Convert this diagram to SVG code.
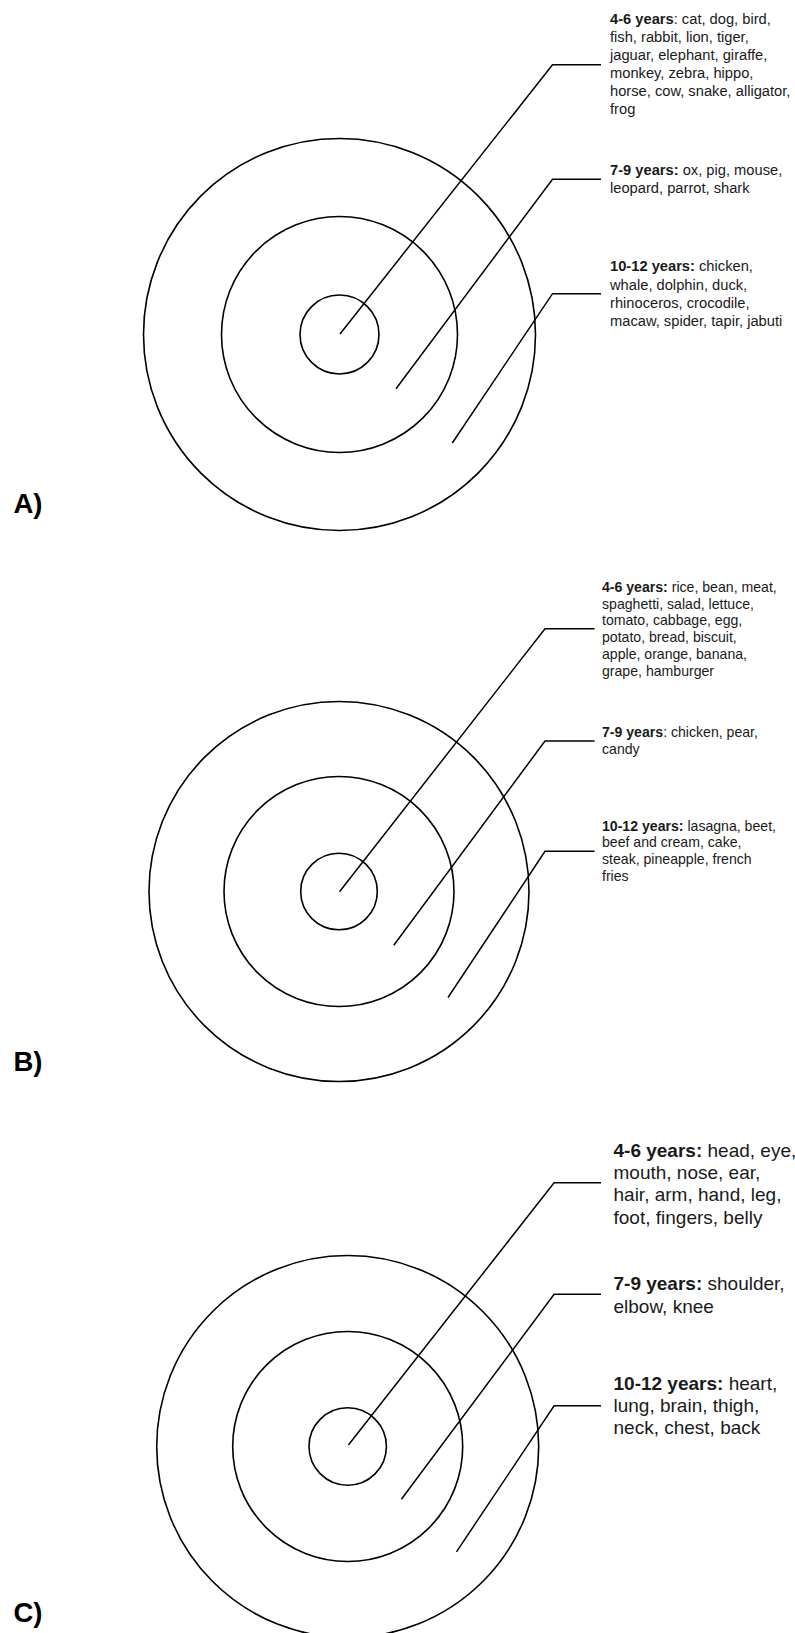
<svg xmlns="http://www.w3.org/2000/svg" width="795" height="1633" viewBox="0 0 795 1633">
<style>
.ring{fill:none;stroke:#000;stroke-width:1.6}
.lead{fill:none;stroke:#000;stroke-width:1.5;stroke-linejoin:miter}
.t{font-family:"Liberation Sans",Arial,sans-serif;fill:#1a1a1a}
.a{font-size:14.7px}
.b{font-size:14.1px}
.c{font-size:19px}
.bold{font-weight:bold}
.panel{font-family:"Liberation Sans",Arial,sans-serif;font-weight:bold;font-size:27.5px;fill:#000}
</style>
<rect width="795" height="1633" fill="#fff"/>

<!-- Panel A -->
<g id="panelA-rings">
<circle class="ring" cx="339.5" cy="334.5" r="196"/>
<circle class="ring" cx="339.5" cy="334.5" r="118"/>
<circle class="ring" cx="339.5" cy="334.5" r="39.5"/>
</g>
<g id="connectors-A">
<path class="lead" d="M340,334 L552.5,64.8 H601"/>
<path class="lead" d="M396,388.8 L552.5,179.2 H601"/>
<path class="lead" d="M452.3,443 L552.5,293.7 H601"/>
</g>
<g id="A-4-6" class="t a">
<text x="610" y="24.2"><tspan class="bold">4-6 years</tspan>: cat, dog, bird,</text>
<text x="610" y="42.1">fish, rabbit, lion, tiger,</text>
<text x="610" y="60">jaguar, elephant, giraffe,</text>
<text x="610" y="77.9">monkey, zebra, hippo,</text>
<text x="610" y="95.8">horse, cow, snake, alligator,</text>
<text x="610" y="113.7">frog</text>
</g>
<g id="A-7-9" class="t a">
<text x="610" y="175.2"><tspan class="bold">7-9 years:</tspan> ox, pig, mouse,</text>
<text x="610" y="193.1">leopard, parrot, shark</text>
</g>
<g id="A-10-12" class="t a">
<text x="610" y="271.4"><tspan class="bold">10-12 years:</tspan> chicken,</text>
<text x="610" y="289.5">whale, dolphin, duck,</text>
<text x="610" y="307.6">rhinoceros, crocodile,</text>
<text x="610" y="325.7">macaw, spider, tapir, jabuti</text>
</g>
<text id="label-A" class="panel" x="13.5" y="512.7">A)</text>

<!-- Panel B -->
<g id="panelB-rings">
<circle class="ring" cx="339" cy="891.5" r="190"/>
<circle class="ring" cx="339" cy="891.5" r="115"/>
<circle class="ring" cx="339" cy="891.5" r="38.3"/>
</g>
<g id="connectors-B">
<path class="lead" d="M339.5,891.8 L545,628.8 H594.5"/>
<path class="lead" d="M393.8,945.3 L545,741 H594.5"/>
<path class="lead" d="M448,997.5 L545,851.3 H594.5"/>
</g>
<g id="B-4-6" class="t b">
<text x="602" y="591.8"><tspan class="bold">4-6 years:</tspan> rice, bean, meat,</text>
<text x="602" y="608.6">spaghetti, salad, lettuce,</text>
<text x="602" y="625.4">tomato, cabbage, egg,</text>
<text x="602" y="642.2">potato, bread, biscuit,</text>
<text x="602" y="659">apple, orange, banana,</text>
<text x="602" y="675.8">grape, hamburger</text>
</g>
<g id="B-7-9" class="t b">
<text x="602" y="737"><tspan class="bold">7-9 years</tspan>: chicken, pear,</text>
<text x="602" y="753.8">candy</text>
</g>
<g id="B-10-12" class="t b">
<text x="602" y="830.5"><tspan class="bold">10-12 years:</tspan> lasagna, beet,</text>
<text x="602" y="847.3">beef and cream, cake,</text>
<text x="602" y="864.1">steak, pineapple, french</text>
<text x="602" y="880.9">fries</text>
</g>
<text id="label-B" class="panel" x="13.5" y="1070.7">B)</text>

<!-- Panel C -->
<g id="panelC-rings">
<circle class="ring" cx="347.7" cy="1446.5" r="191"/>
<circle class="ring" cx="347.7" cy="1446.5" r="115"/>
<circle class="ring" cx="347.7" cy="1446.5" r="38.7"/>
</g>
<g id="connectors-C">
<path class="lead" d="M348.4,1445 L554.1,1182.8 H601"/>
<path class="lead" d="M401.4,1499.3 L554.1,1294.3 H601"/>
<path class="lead" d="M456.5,1551.8 L554.1,1405.8 H601"/>
</g>
<g id="C-4-6" class="t c">
<text x="613.5" y="1157"><tspan class="bold">4-6 years:</tspan> head, eye,</text>
<text x="613.5" y="1179.2">mouth, nose, ear,</text>
<text x="613.5" y="1201.4">hair, arm, hand, leg,</text>
<text x="613.5" y="1223.6">foot, fingers, belly</text>
</g>
<g id="C-7-9" class="t c">
<text x="613.5" y="1290.4"><tspan class="bold">7-9 years:</tspan> shoulder,</text>
<text x="613.5" y="1312.6">elbow, knee</text>
</g>
<g id="C-10-12" class="t c">
<text x="613.5" y="1390"><tspan class="bold">10-12 years:</tspan> heart,</text>
<text x="613.5" y="1412.2">lung, brain, thigh,</text>
<text x="613.5" y="1434.4">neck, chest, back</text>
</g>
<text id="label-C" class="panel" x="13.5" y="1621.7">C)</text>
</svg>
